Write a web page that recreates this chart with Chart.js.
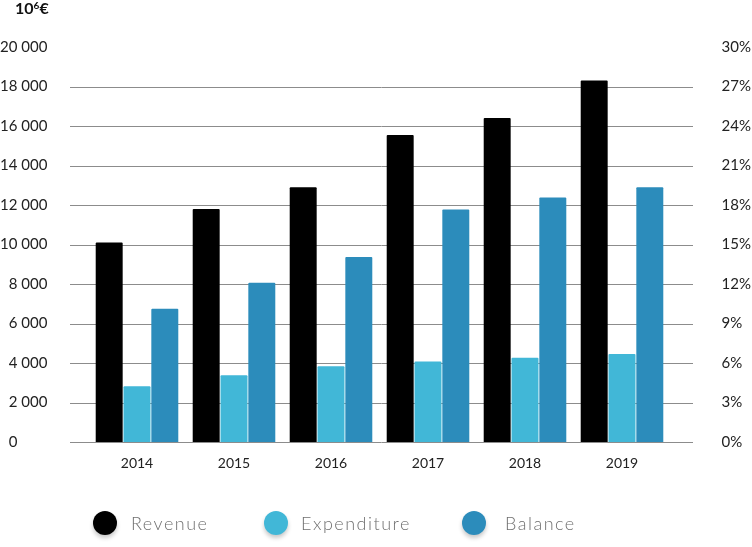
<!DOCTYPE html>
<html>
<head>
<meta charset="utf-8">
<script src="https://cdn.jsdelivr.net/npm/chart.js@4"></script>
<style>
html,body{margin:0;padding:0;background:#fff;}
#wrap{position:relative;width:752px;height:547px;overflow:hidden;}
#unit{position:absolute;left:15px;top:-2px;font-family:Lato,sans-serif;font-weight:700;font-size:16px;color:#111;line-height:20px;}
.dot{position:absolute;width:24px;height:24px;border-radius:50%;top:0;box-shadow:0 3px 4px rgba(0,0,0,0.22);}
.lt{position:absolute;top:0px;line-height:24px;font-family:Lato,sans-serif;font-weight:300;font-size:18px;color:#707070;letter-spacing:1.5px;white-space:nowrap;}
</style>
</head>
<body>
<div id="wrap">
<canvas id="c" width="752" height="547"></canvas>
<div id="unit">10<sup style="font-size:10px;vertical-align:5px;line-height:0">6</sup>€</div>
<div id="legend"></div>
</div>
<script>
const categories = ["2014","2015","2016","2017","2018","2019"];
const revenue = [10100, 11800, 12900, 15550, 16400, 18300];
const expenditure = [2820, 3380, 3830, 4080, 4260, 4460];
const balance = [6750, 8060, 9370, 11770, 12380, 12900];
const seriesNames = ["Revenue","Expenditure","Balance"];
const seriesColors = ["#000000","#41b7d7","#2c8cbb"];
const legendDotX = [93, 264, 462];
const legendTextX = [131, 301, 505];

const gridPlugin = {
  id:'extGrid',
  beforeDatasetsDraw(chart){
    const y = chart.scales.y, ca = chart.chartArea, ctx = chart.ctx;
    ctx.save();
    ctx.strokeStyle = '#8c8c8c';
    ctx.lineWidth = 1;
    y.ticks.forEach(t=>{
      if (t.value >= 20000) return;
      const py = Math.round(y.getPixelForValue(t.value)) + 0.5;
      ctx.beginPath();
      ctx.moveTo(ca.left - 18.5, py);
      ctx.lineTo(ca.right + 22.5, py);
      ctx.stroke();
    });
    ctx.restore();
  }
};

const fontTick = {family:'Lato, sans-serif', size:15};
new Chart(document.getElementById('c'), {
  type:'bar',
  data:{
    labels:categories,
    datasets:[
      {label:seriesNames[0], data:revenue, backgroundColor:seriesColors[0]},
      {label:seriesNames[1], data:expenditure, backgroundColor:seriesColors[1]},
      {label:seriesNames[2], data:balance, backgroundColor:seriesColors[2]}
    ]
  },
  options:{
    responsive:false,
    animation:false,
    layout:{padding:{top:47,bottom:0,left:0,right:0}},
    datasets:{bar:{categoryPercentage:0.86, barPercentage:0.97, borderRadius:1}},
    plugins:{legend:{display:false}, tooltip:{enabled:false}},
    scales:{
      x:{
        grid:{display:false, drawTicks:false},
        border:{display:false},
        ticks:{color:'#222', font:{family:'Lato, sans-serif', size:14}, padding:13},
        afterFit(s){ s.height = 105; }
      },
      y:{
        position:'left', min:0, max:20000,
        grid:{display:false, drawTicks:false},
        border:{display:false},
        ticks:{stepSize:2000, color:'#222', font:fontTick, padding:0, crossAlign:'far',
          callback:v=> v>=10000 ? Math.floor(v/1000)+' '+String(v%1000).padStart(3,'0')
                    : v>=1000 ? '\u2007'+Math.floor(v/1000)+' '+String(v%1000).padStart(3,'0')
                    : '\u2007'+String(v)},
        afterFit(s){ s.width = 88.5; }
      },
      y2:{
        position:'right', min:0, max:30,
        grid:{display:true, drawOnChartArea:false, drawTicks:true, tickLength:51, color:'rgba(0,0,0,0)'},
        border:{display:false},
        ticks:{stepSize:3, color:'#222', font:fontTick, padding:0, callback:v=>v+'%'},
        afterFit(s){ s.width = 81.5; }
      }
    }
  },
  plugins:[gridPlugin]
});

const lg = document.getElementById('legend');
seriesNames.forEach((n,i)=>{
  const d = document.createElement('div');
  d.className='dot';
  d.style.left = legendDotX[i]+'px'; d.style.top='511px'; d.style.background=seriesColors[i];
  lg.appendChild(d);
  const t = document.createElement('div');
  t.className='lt';
  t.style.left = legendTextX[i]+'px'; t.style.top='511px';
  t.textContent = n;
  lg.appendChild(t);
});
</script>
</body>
</html>
